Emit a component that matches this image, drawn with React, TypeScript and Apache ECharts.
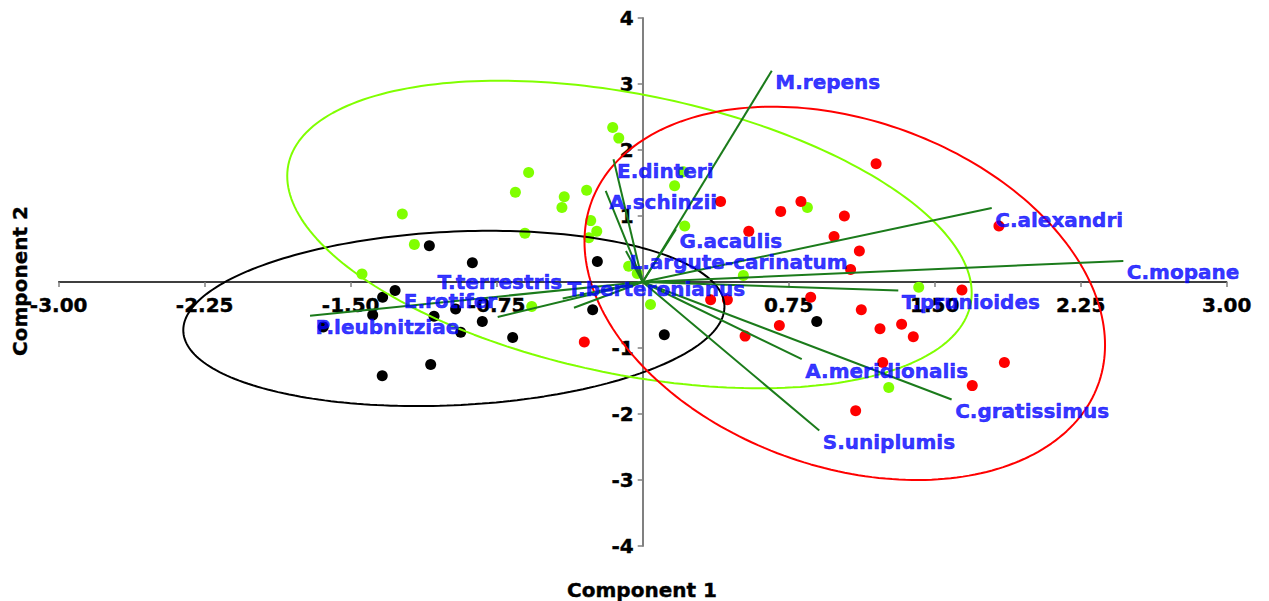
import React, { useEffect, useRef } from 'react';
import * as echarts from 'echarts';

// Site scores on the first two principal components, one array per group
const blackSites: [number, number][] = [
  [-1.096, 0.55], [-0.875, 0.29], [-0.233, 0.31], [-1.272, -0.13], [-1.336, -0.23],
  [-1.387, -0.5], [-1.641, -0.68], [-1.072, -0.52], [-0.961, -0.41], [-0.824, -0.6],
  [-0.935, -0.76], [-0.668, -0.84], [-0.257, -0.42], [0.111, -0.8], [-1.089, -1.25],
  [-1.338, -1.42], [0.894, -0.6],
];

const greenSites: [number, number][] = [
  [-0.154, 2.34], [-0.123, 2.18], [-0.586, 1.66], [-0.654, 1.36], [-0.288, 1.39],
  [-0.403, 1.29], [-0.415, 1.13], [-1.235, 1.03], [-0.267, 0.93], [-0.236, 0.77],
  [-0.277, 0.67], [-0.605, 0.74], [-1.173, 0.57], [-1.442, 0.12], [0.164, 1.46],
  [0.209, 1.67], [0.216, 0.85], [-0.072, 0.24], [-0.028, 0.13], [0.04, -0.34],
  [-0.57, -0.37], [0.846, 1.13], [0.517, 0.1], [1.418, -0.08], [1.264, -1.6],
];

const redSites: [number, number][] = [
  [1.199, 1.79], [0.813, 1.22], [0.709, 1.07], [1.036, 1.0], [0.4, 1.22],
  [0.545, 0.77], [0.983, 0.69], [1.113, 0.47], [1.068, 0.19], [1.64, -0.12],
  [1.83, 0.85], [0.863, -0.23], [1.123, -0.42], [0.349, -0.27], [0.435, -0.27],
  [0.702, -0.66], [0.526, -0.82], [1.219, -0.71], [1.33, -0.64], [1.39, -0.83],
  [1.233, -1.22], [1.094, -1.95], [1.693, -1.57], [1.858, -1.22], [-0.3, -0.91],
];

// Species loadings (biplot vectors)
const speciesNames = [
  'M.repens', 'G.acaulis', 'E.dinteri', 'A.schinzii', 'L.argute-carinatum',
  'C.alexandri', 'C.mopane', 'T.prunioides', 'A.meridionalis', 'C.gratissimus',
  'S.uniplumis', 'P.leubnitziae', 'E.rotifer', 'T.terrestris', 'T.berteronianus',
];
const loadingX = [0.663, 0.171, -0.15, -0.19, -0.086, 1.793, 2.469, 1.313, 0.817, 1.587, 0.907, -1.709, -0.745, -0.411, -0.353];
const loadingY = [3.2, 0.8, 1.86, 1.38, 0.47, 1.12, 0.32, -0.13, -1.17, -1.78, -2.25, -0.51, -0.53, -0.25, -0.39];

// 95% ellipses: centre, half-extents along x and y, and x–y correlation
const ellipseBlack = { cx: -0.97, cy: -0.552, hx: 1.39, hy: 1.328, rho: 0.134 };
const ellipseGreen = { cx: -0.068, cy: 0.72, hx: 1.758, hy: 2.33, rho: -0.38 };
const ellipseRed = { cx: 1.038, cy: -0.172, hx: 1.337, hy: 2.828, rho: -0.277 };

const FONT = '"DejaVu Sans", sans-serif';

// Plot area
const GRID_LEFT = 58.7;
const GRID_TOP = 18;
const GRID_W = 1168;
const GRID_H = 528;

function ellipseOutline(e: { cx: number; cy: number; hx: number; hy: number; rho: number }) {
  const pts: [number, number][] = [];
  const s = Math.sqrt(1 - e.rho * e.rho);
  const n = 240;
  for (let i = 0; i <= n; i++) {
    const t = (i / n) * Math.PI * 2;
    pts.push([e.cx + e.hx * Math.cos(t), e.cy + e.hy * (e.rho * Math.cos(t) - s * Math.sin(t))]);
  }
  return pts;
}

// Where each species name sits relative to the tip of its vector
function labelPlacement(name: string) {
  switch (name) {
    case 'E.rotifer':
      return { position: [0, -15], align: 'right' };
    case 'T.terrestris':
      return { position: [0, -16], align: 'right' };
    case 'T.berteronianus':
      return { position: [-6, -18], align: 'left' };
    case 'P.leubnitziae':
      return { position: [6, 12], align: 'left' };
    default:
      return { position: [4, 12], align: 'left' };
  }
}

export default function App() {
  const ref = useRef<HTMLDivElement>(null);

  useEffect(() => {
    if (!ref.current) return;
    const chart = echarts.init(ref.current, null, { renderer: 'svg' });

    const dot = (data: [number, number][], color: string) => ({
      type: 'scatter',
      data,
      symbol: 'circle',
      symbolSize: 11,
      itemStyle: { color, opacity: 1 },
      silent: true,
      z: 2,
    });

    const ring = (e: typeof ellipseBlack, color: string) => ({
      type: 'line',
      data: ellipseOutline(e),
      showSymbol: false,
      symbol: 'none',
      smooth: false,
      lineStyle: { color, width: 2 },
      silent: true,
      z: 3,
    });

    const tickFont = {
      color: '#000000',
      fontFamily: FONT,
      fontWeight: 'bold',
      fontSize: 20,
      textBorderColor: '#000000',
      textBorderWidth: 0.4,
    };

    const option = {
      animation: false,
      backgroundColor: '#ffffff',
      grid: { left: GRID_LEFT, top: GRID_TOP, width: GRID_W, height: GRID_H, outerBoundsMode: 'none' },
      xAxis: {
        type: 'value',
        min: -3,
        max: 3,
        interval: 0.75,
        position: 'bottom',
        // axes cross at the origin
        offset: -GRID_H / 2,
        axisLine: { show: true, onZero: false, lineStyle: { color: '#000000', width: 1.5 } },
        axisTick: { show: true, length: 5, lineStyle: { color: '#808080', width: 1.5 } },
        axisLabel: {
          showMinLabel: true,
          showMaxLabel: true,
          margin: 13,
          ...tickFont,
          formatter: (v: number) => (Math.abs(v) < 1e-9 ? '' : v.toFixed(2)),
        },
        splitLine: { show: false },
      },
      yAxis: {
        type: 'value',
        min: -4,
        max: 4,
        interval: 1,
        position: 'left',
        offset: -GRID_W / 2,
        axisLine: { show: true, onZero: false, lineStyle: { color: '#808080', width: 2 } },
        axisTick: { show: true, length: 5, lineStyle: { color: '#808080', width: 1.5 } },
        axisLabel: {
          showMinLabel: true,
          showMaxLabel: true,
          margin: 9,
          ...tickFont,
          formatter: (v: number) => (Math.abs(v) < 1e-9 ? '' : String(v)),
        },
        splitLine: { show: false },
      },
      graphic: [
        {
          type: 'text',
          x: 642,
          y: 590,
          style: {
            text: 'Component 1',
            font: `bold 20px ${FONT}`,
            fill: '#000000',
            stroke: '#000000',
            lineWidth: 0.4,
            align: 'center',
            verticalAlign: 'middle',
          },
        },
        {
          type: 'text',
          x: 20,
          y: 281,
          rotation: Math.PI / 2,
          style: {
            text: 'Component 2',
            font: `bold 20px ${FONT}`,
            fill: '#000000',
            stroke: '#000000',
            lineWidth: 0.4,
            align: 'center',
            verticalAlign: 'middle',
          },
        },
      ],
      series: [
        dot(blackSites, '#000000'),
        dot(greenSites, '#80ff00'),
        dot(redSites, '#ff0000'),
        ring(ellipseBlack, '#000000'),
        ring(ellipseGreen, '#80ff00'),
        ring(ellipseRed, '#ff0000'),
        {
          type: 'lines',
          coordinateSystem: 'cartesian2d',
          data: speciesNames.map((name, i) => ({
            name,
            coords: [
              [0, 0],
              [loadingX[i], loadingY[i]],
            ],
          })),
          lineStyle: { color: '#1b7b1b', width: 2, opacity: 1 },
          symbol: 'none',
          silent: true,
          z: 4,
        },
        {
          type: 'scatter',
          data: speciesNames.map((name, i) => {
            const p = labelPlacement(name);
            return {
              name,
              value: [loadingX[i], loadingY[i]],
              label: { position: p.position, align: p.align },
            };
          }),
          symbol: 'circle',
          symbolSize: 1,
          itemStyle: { color: 'rgba(0,0,0,0)' },
          label: {
            show: true,
            formatter: '{b}',
            verticalAlign: 'middle',
            color: '#0000ff',
            fontFamily: FONT,
            fontWeight: 'bold',
            fontSize: 20,
            textBorderColor: '#0000ff',
            textBorderWidth: 0.5,
          },
          silent: true,
          z: 6,
        },
      ],
    };

    chart.setOption(option as any);
    return () => chart.dispose();
  }, []);

  return (
    <div
      ref={ref}
      style={{ position: 'absolute', left: 0, top: 0, width: 1269, height: 601, background: '#ffffff' }}
    />
  );
}
